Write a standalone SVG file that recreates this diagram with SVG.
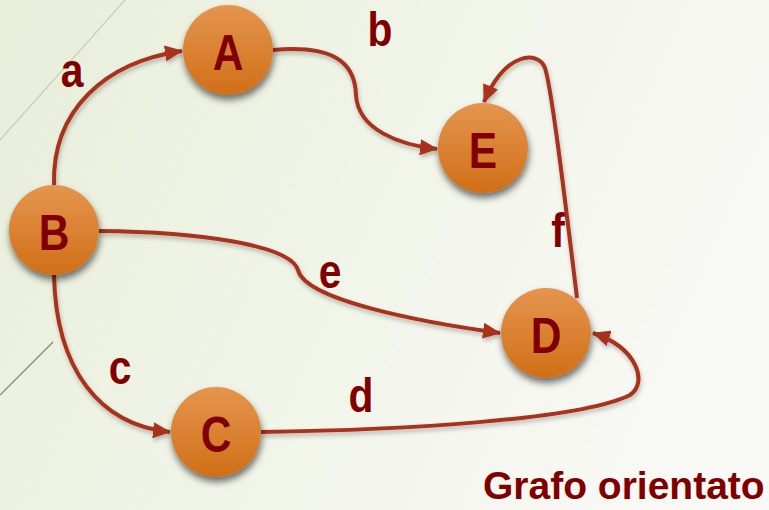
<svg xmlns="http://www.w3.org/2000/svg" width="769" height="510" viewBox="0 0 769 510">
  <defs>
    <linearGradient id="bg" x1="0" y1="0" x2="1" y2="0.3">
      <stop offset="0" stop-color="#E8EEDA"/>
      <stop offset="0.6" stop-color="#F2F5EA"/>
      <stop offset="1" stop-color="#F8F8F4"/>
    </linearGradient>
    <linearGradient id="nodeFill" x1="0" y1="0" x2="0" y2="1">
      <stop offset="0" stop-color="#E5954F"/>
      <stop offset="1" stop-color="#D06F17"/>
    </linearGradient>
    <filter id="shadow" x="-30%" y="-30%" width="160%" height="170%">
      <feDropShadow dx="1" dy="5" stdDeviation="3.5" flood-color="#000" flood-opacity="0.55"/>
    </filter>
    <filter id="eshadow" x="-10%" y="-10%" width="120%" height="130%">
      <feDropShadow dx="1" dy="3" stdDeviation="2" flood-color="#000" flood-opacity="0.25"/>
    </filter>
    <marker id="arrow" markerUnits="userSpaceOnUse" markerWidth="18" markerHeight="16" refX="17" refY="8" orient="auto">
      <path d="M0,0 L18,8 L0,16 z" fill="#A8321A"/>
    </marker>
  </defs>
  <style>
    .edge { fill: none; stroke: #A8321A; stroke-width: 4; marker-end: url(#arrow); }
    .node circle { fill: url(#nodeFill); filter: url(#shadow); }
    .node text { font-family: "Liberation Sans", Arial, sans-serif; font-weight: bold; font-size: 50px; fill: #800000; text-anchor: middle; }
    .lbl { font-family: "Liberation Sans", Arial, sans-serif; font-weight: bold; font-size: 48px; fill: #800000; text-anchor: middle; }
    .title { font-family: "Liberation Sans", Arial, sans-serif; font-weight: bold; font-size: 39px; fill: #800000; }
  </style>

  <rect x="0" y="0" width="769" height="510" fill="url(#bg)"/>
  <line x1="0" y1="140" x2="125" y2="0" stroke="#C9CDBA" stroke-width="1.2"/>
  <path d="M0,395 Q25,370 53,342" fill="none" stroke="#8A8272" stroke-width="1.2"/>

  <g id="connectors" filter="url(#eshadow)">
    <path id="edge-a" class="edge" d="M54,185 C52,110 105,62 182,51"/>
    <path id="edge-b" class="edge" d="M273,50 C330,45 355,60 356,95 C358,130 400,145 437,149"/>
    <path id="edge-e" class="edge" d="M99,231 C200,232 290,245 298,270 C305,300 420,322 500,333"/>
    <path id="edge-c" class="edge" d="M54,275 C56,370 100,425 170,432"/>
    <path id="edge-d" class="edge" d="M261,432 C400,430 580,420 630,395 C648,383 638,348 593,333"/>
    <path id="edge-f" class="edge" d="M577,298 C565,200 552,90 545,68 C538,50 505,52 484,102"/>
  </g>

  <g id="edge-labels">
    <text class="lbl" x="72" y="87" transform="translate(72,0) scale(0.85,1) translate(-72,0)">a</text>
    <text class="lbl" x="380" y="46" transform="translate(380,0) scale(0.85,1) translate(-380,0)">b</text>
    <text class="lbl" x="120" y="384" transform="translate(120,0) scale(0.85,1) translate(-120,0)">c</text>
    <text class="lbl" x="361" y="412" transform="translate(361,0) scale(0.85,1) translate(-361,0)">d</text>
    <text class="lbl" x="330" y="288" transform="translate(330,0) scale(0.85,1) translate(-330,0)">e</text>
    <text class="lbl" x="558" y="247" transform="translate(558,0) scale(0.85,1) translate(-558,0)">f</text>
  </g>

  <g id="node-A" class="node">
    <circle cx="228" cy="50" r="45"/>
    <text x="228" y="70" transform="translate(228,0) scale(0.85,1) translate(-228,0)">A</text>
  </g>
  <g id="node-B" class="node">
    <circle cx="54" cy="230" r="45"/>
    <text x="54" y="250" transform="translate(54,0) scale(0.85,1) translate(-54,0)">B</text>
  </g>
  <g id="node-E" class="node">
    <circle cx="483" cy="148" r="45"/>
    <text x="483" y="168" transform="translate(483,0) scale(0.85,1) translate(-483,0)">E</text>
  </g>
  <g id="node-D" class="node">
    <circle cx="546" cy="333" r="45"/>
    <text x="546" y="353" transform="translate(546,0) scale(0.85,1) translate(-546,0)">D</text>
  </g>
  <g id="node-C" class="node">
    <circle cx="216" cy="432" r="45"/>
    <text x="216" y="452" transform="translate(216,0) scale(0.85,1) translate(-216,0)">C</text>
  </g>

  <text class="title" x="483" y="499">Grafo orientato</text>
</svg>
